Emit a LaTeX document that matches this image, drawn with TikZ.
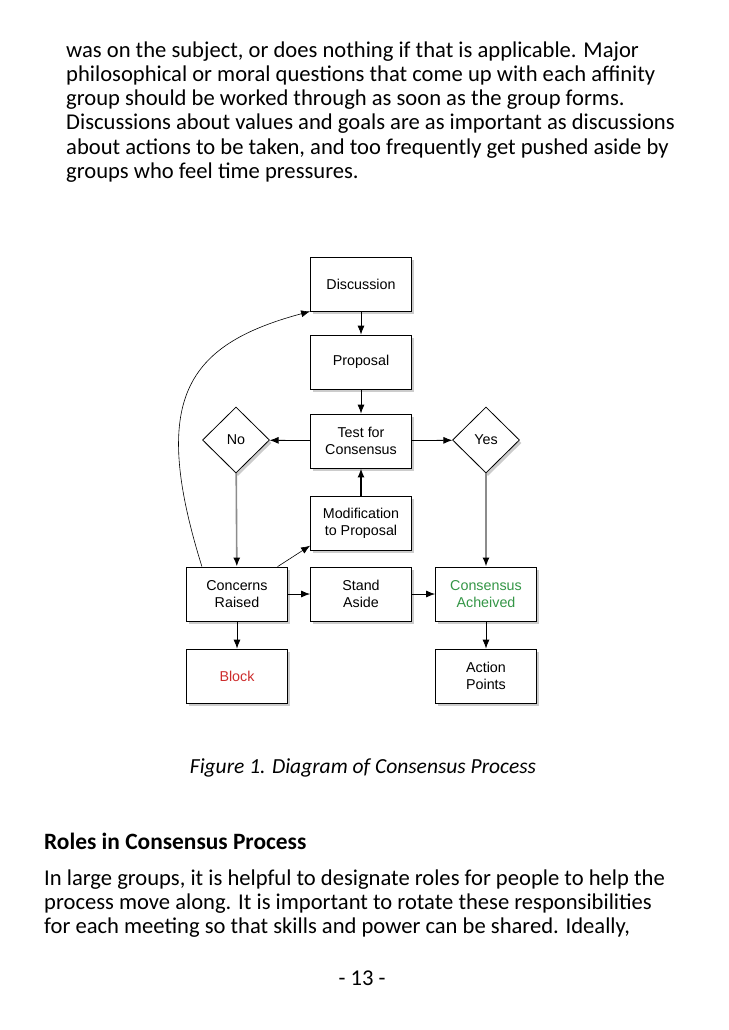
\documentclass[tikz,border=0pt]{standalone}
\usepackage{fontspec}
\setmainfont{Carlito}
\newfontfamily\chartfont{Liberation Sans}
\usetikzlibrary{arrows.meta, shapes.geometric, shadows}
\definecolor{okgreen}{RGB}{52,150,70}
\definecolor{blockred}{RGB}{205,45,45}

\begin{document}
\begin{tikzpicture}[x=1pt, y=-1pt]

\tikzset{box/.style = {shape=rectangle, draw, fill=white, line width=0.8pt,
  minimum width=101pt, minimum height=54pt, align=center, inner sep=2pt,
  font=\chartfont\fontsize{14.3}{17}\selectfont,
  drop shadow={shadow xshift=2pt, shadow yshift=-3pt, opacity=.4}}}
\tikzset{choice/.style = {shape=diamond, draw, fill=white, line width=0.8pt,
  minimum width=67pt, minimum height=66pt, inner sep=0pt,
  font=\chartfont\fontsize{14.3}{17}\selectfont,
  drop shadow={shadow xshift=2pt, shadow yshift=-3pt, opacity=.4}}}
\tikzset{edge/.style = {-{Latex[length=9pt, width=7pt, color=black]}, line width=0.8pt}}
\tikzset{greyedge/.style = {edge, draw=black!45, line width=1.6pt}}
\tikzset{line/.style = {anchor=base west, inner sep=0pt, font=\fontsize{22.6}{24}\selectfont}}

\useasboundingbox (0,0) rectangle (728,1030);

%text above
\node[line] (t1) at (66,58) {was on the subject, or does nothing if that is applicable. Major};
\node[line] (t2) at (66,82) {philosophical or moral questions that come up with each affinity};
\node[line] (t3) at (66,106) {group should be worked through as soon as the group forms.};
\node[line] (t4) at (66,130) {Discussions about values and goals are as important as discussions};
\node[line] (t5) at (66,154) {about actions to be taken, and too frequently get pushed aside by};
\node[line] (t6) at (66,178) {groups who feel time pressures.};

%verticies
\node[box] (discussion) at (361,284) {Discussion};
\node[box] (proposal) at (361,362) {Proposal};
\node[box] (test) at (361,441) {Test for\\Consensus};
\node[choice] (no) at (236,440) {No};
\node[choice] (yes) at (486,440) {Yes};
\node[box] (modification) at (361,523) {Modification\\to Proposal};
\node[box] (concerns) at (237,594) {Concerns\\Raised};
\node[box] (standaside) at (361,594) {Stand\\Aside};
\node[box, text=okgreen] (consensus) at (486,594) {Consensus\\Acheived};
\node[box, text=blockred] (block) at (237,676) {Block};
\node[box] (action) at (486,676) {Action\\Points};

%edges
\draw [edge] (discussion) -- (proposal);
\draw [edge] (proposal) -- (test);
\draw [edge] (test) -- (no);
\draw [edge] (test) -- (yes);
\draw [edge, line width=1.5pt] (modification) -- (test);
\draw [greyedge] (no) -- (concerns);
\draw [greyedge] (yes) -- (consensus);
\draw [edge] (concerns) -- (standaside);
\draw [edge] (standaside) -- (consensus);
\draw [edge] (concerns) -- (block);
\draw [edge] (consensus) -- (action);
\draw [edge, line width=0.6pt] (concerns.34) -- (modification.204);
\draw [edge, line width=0.6pt] (concerns.142) .. controls (150,400) and (185,345) .. (discussion.south west);

%text below
\node[line, anchor=base, font=\itshape\fontsize{21.5}{24}\selectfont] (caption) at (363,773) {Figure 1. Diagram of Consensus Process};
\node[line, font=\bfseries\fontsize{23.4}{24}\selectfont] (heading) at (44,849) {Roles in Consensus Process};
\node[line] (b1) at (44,885) {In large groups, it is helpful to designate roles for people to help the};
\node[line] (b2) at (44,909) {process move along. It is important to rotate these responsibilities};
\node[line] (b3) at (44,933) {for each meeting so that skills and power can be shared. Ideally,};
\node[line, anchor=base] (page) at (362,985) {- 13 -};

\end{tikzpicture}
\end{document}
